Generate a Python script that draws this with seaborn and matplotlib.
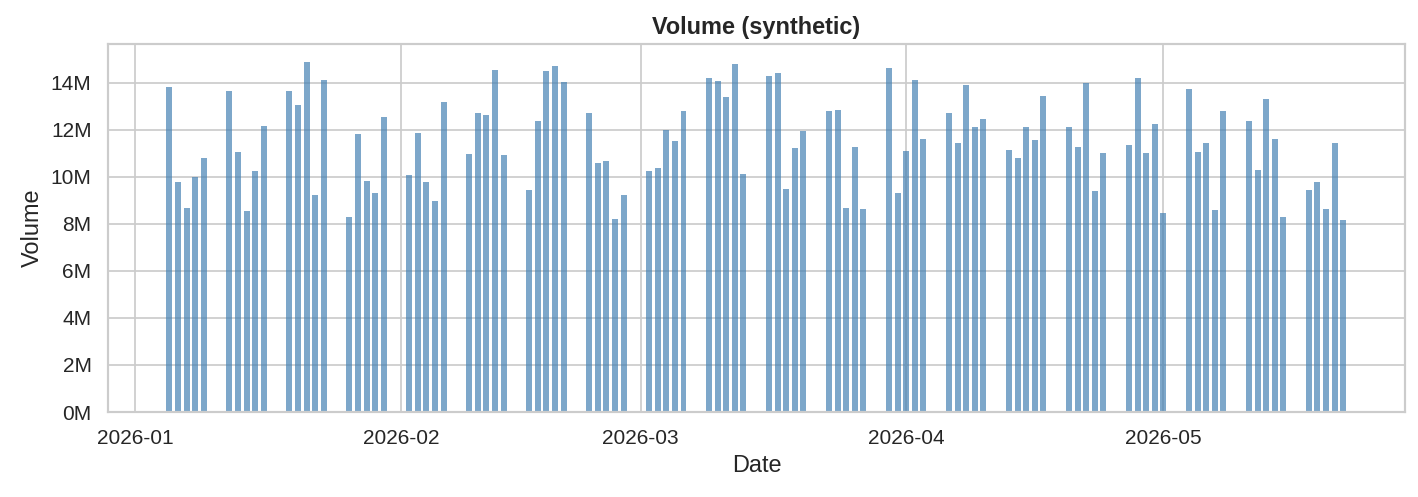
import matplotlib
matplotlib.use("Agg")
import matplotlib.dates as mdates
import matplotlib.pyplot as plt
import matplotlib.ticker as mticker
import pandas as pd
import seaborn as sns

# trading days, Mon-Fri only
dates = pd.bdate_range("2026-01-05", "2026-05-22")

# volume in millions
volume_m = [
    13.81, 9.76, 8.67, 10.00, 10.81,
    13.64, 11.07, 8.56, 10.27, 12.16,
    13.64, 13.06, 14.90, 9.24, 14.13,
    8.30, 11.84, 9.83, 9.33, 12.54,
    10.06, 11.86, 9.76, 8.99, 13.19,
    10.96, 12.71, 12.63, 14.56, 10.91,
    9.46, 12.37, 14.51, 14.73, 14.03,
    12.71, 10.61, 10.66, 8.21, 9.24,
    10.27, 10.36, 11.99, 11.51, 12.80,
    14.21, 14.09, 13.40, 14.81, 10.14,
    14.30, 14.43, 9.50, 11.21, 11.94,
    12.80, 12.84, 8.69, 11.26, 8.64,
    14.64, 9.33, 11.09, 14.13, 11.60,
    12.71, 11.43, 13.91, 12.11, 12.46,
    11.13, 10.79, 12.11, 11.56, 13.44,
    12.11, 11.26, 14.00, 9.41, 11.00,
    11.34, 14.21, 11.00, 12.24, 8.47,
    13.74, 11.04, 11.43, 8.60, 12.80,
    12.37, 10.31, 13.31, 11.60, 8.30,
    9.46, 9.76, 8.64, 11.43, 8.17,
]

df = pd.DataFrame({
    "datenum": mdates.date2num(dates.to_pydatetime()),
    "volume": [v * 1e6 for v in volume_m],
})

sns.set_theme(style="whitegrid")
plt.rcParams["font.family"] = ["Liberation Sans", "DejaVu Sans"]
plt.rcParams["xtick.labelsize"] = 12
plt.rcParams["ytick.labelsize"] = 12
plt.rcParams["axes.labelsize"] = 13.5
plt.rcParams["axes.titlesize"] = 13.5

fig, ax = plt.subplots(figsize=(1418 / 125, 497 / 125), dpi=125)
sns.barplot(
    data=df, x="datenum", y="volume", native_scale=True, width=0.7,
    color="steelblue", alpha=0.7, saturation=1, edgecolor="none",
    linewidth=0, errorbar=None, ax=ax,
)

ax.xaxis.set_major_locator(mdates.MonthLocator())
ax.xaxis.set_major_formatter(mdates.DateFormatter("%Y-%m"))
ax.yaxis.set_major_formatter(mticker.FuncFormatter(lambda v, _: f"{v / 1e6:.0f}M"))
ax.set_xlim(mdates.date2num(pd.Timestamp("2025-12-28 20:00")),
            mdates.date2num(pd.Timestamp("2026-05-29 05:00")))
ax.set_ylim(0, 15.65e6)

ax.set_title("Volume (synthetic)", fontweight="bold")
ax.set_xlabel("Date")
ax.set_ylabel("Volume")

fig.subplots_adjust(left=0.0762, right=0.9908, top=0.9115, bottom=0.171)
fig.savefig("out.png", dpi=125)
